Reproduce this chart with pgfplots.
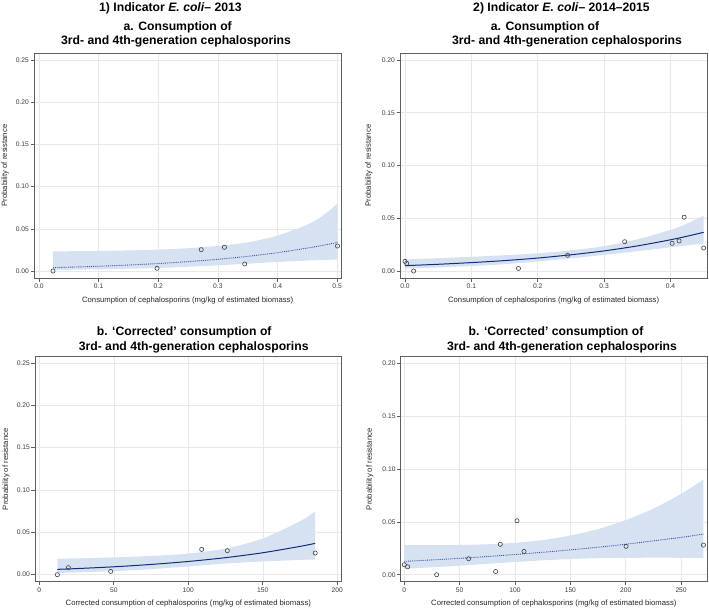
\documentclass[border=0pt]{standalone}
\usepackage{fontspec}
\setmainfont{Liberation Sans}
\usepackage{pgfplots}
\pgfplotsset{compat=1.18}
\usepackage{pgfplotstable}
\usepgfplotslibrary{fillbetween}

\definecolor{band}{RGB}{214,226,241}
\definecolor{navy}{RGB}{20,45,120}
\definecolor{dotblue}{RGB}{55,85,165}
\definecolor{framec}{RGB}{95,95,95}
\definecolor{ticklab}{RGB}{60,60,60}

% points
\pgfplotstableread{
x y
0.0235 0.000
0.198 0.0032
0.272 0.0253
0.311 0.0281
0.345 0.0083
0.5006 0.0296
}\ptsA
\pgfplotstableread{
x fit up lo
0.0235 0.00399 0.0232 0.0012
0.05 0.00450 0.0234 0.0015
0.10 0.00564 0.0238 0.0020
0.15 0.00708 0.0244 0.0027
0.20 0.00886 0.0254 0.0036
0.25 0.0111 0.0270 0.0050
0.30 0.0139 0.0298 0.0067
0.35 0.0174 0.0340 0.0087
0.40 0.0217 0.0420 0.0107
0.45 0.0272 0.0550 0.0124
0.475 0.0303 0.0650 0.0130
0.5006 0.0338 0.0800 0.0137
}\fitA

\pgfplotstableread{
x y
0.000 0.0092
0.0025 0.0073
0.013 0.000
0.171 0.0025
0.245 0.0149
0.331 0.0278
0.4025 0.0263
0.413 0.0285
0.4206 0.0510
0.450 0.0218
}\ptsB
\pgfplotstableread{
x fit up lo
0.00 0.0051 0.0110 0.0024
0.05 0.0064 0.0122 0.0034
0.10 0.0080 0.0135 0.0047
0.15 0.0099 0.0150 0.0065
0.20 0.0123 0.0168 0.0090
0.25 0.0154 0.0196 0.0120
0.30 0.0191 0.0236 0.0153
0.35 0.0238 0.0300 0.0188
0.40 0.0296 0.0390 0.0225
0.425 0.0330 0.0450 0.0243
0.45 0.0367 0.0525 0.0260
}\fitB

\pgfplotstableread{
x y
12.1 0.000
19.5 0.0083
47.9 0.0039
109.0 0.0299
126.2 0.0283
185.2 0.0256
}\ptsC
\pgfplotstableread{
x fit up lo
12.1 0.00630 0.0189 0.00209
25 0.00719 0.0193 0.00266
50 0.00931 0.0204 0.00422
75 0.0121 0.0221 0.00656
100 0.0156 0.0249 0.00971
125 0.0201 0.0309 0.0131
150 0.0259 0.0427 0.0156
175 0.0334 0.0632 0.0174
185.2 0.0370 0.0748 0.0180
}\fitC

\pgfplotstableread{
x y
0 0.0095
3.0 0.0075
29.2 0.000
58.1 0.0151
82.5 0.0030
86.7 0.0287
101.8 0.0510
108.1 0.0220
200.3 0.0268
270.2 0.0280
}\ptsD
\pgfplotstableread{
x fit up lo
0 0.0126 0.0280 0.0056
25 0.0140 0.0279 0.0070
50 0.0155 0.0281 0.0085
75 0.0172 0.0288 0.0103
100 0.0191 0.0302 0.0120
125 0.0212 0.0328 0.0136
150 0.0235 0.0370 0.0148
175 0.0260 0.0432 0.0156
200 0.0288 0.0516 0.0159
225 0.0320 0.0625 0.0161
250 0.0353 0.0764 0.0160
270.2 0.0384 0.0900 0.0159
}\fitD

\pgfplotsset{
 panel/.style={
   scale only axis, height=225pt, anchor=south west,
   /pgf/number format/assume math mode=true,
   axis line style={draw=framec, line width=0.7pt},
   tick pos=left, tick align=outside, major tick length=3.5pt,
   tick style={draw=framec, line width=0.6pt},
   grid=major, major grid style={draw=black!9, line width=0.5pt},
   tick label style={font=\fontsize{6.7}{8}\selectfont, text=ticklab},
   yticklabel style={/pgf/number format/fixed, /pgf/number format/fixed zerofill, /pgf/number format/precision=2, inner sep=1.5pt},
   xticklabel style={inner sep=2pt},
   scaled ticks=false,
   ylabel={Probability of resistance},
   every axis y label/.style={at={(axis description cs:-0.094,0.5)}, rotate=90, anchor=center, font=\fontsize{7.7}{9}\selectfont, text=black!85},
   every axis x label/.style={at={(axis description cs:0.5,-0.099)}, anchor=center, font=\fontsize{7.7}{9}\selectfont, text=black!85},
 },
 pts/.style={only marks, mark=o, mark size=2.1pt, draw=black!75, mark options={line width=0.6pt}},
}
\tikzset{titlefont/.style={font=\fontsize{12.2}{14}\selectfont\bfseries, anchor=base}}

\begin{document}
\begin{tikzpicture}

% ---------- 1a ----------
\begin{axis}[panel, at={(34pt,-278pt)}, width=307.3pt,
  xmin=-0.0084, xmax=0.507, ymin=-0.0083, ymax=0.2584,
  xtick={0,0.1,0.2,0.3,0.4,0.5}, ytick={0,0.05,0.1,0.15,0.2,0.25},
  xticklabel style={/pgf/number format/fixed, /pgf/number format/fixed zerofill, /pgf/number format/precision=1},
  xlabel={Consumption of cephalosporins (mg/kg of estimated biomass)}]
\addplot[name path=upA, draw=none, smooth] table[x=x, y=up]{\fitA};
\addplot[name path=loA, draw=none, smooth] table[x=x, y=lo]{\fitA};
\addplot[band, draw=none] fill between[of=upA and loA];
\addplot[dotblue, densely dotted, line width=0.9pt, smooth] table[x=x, y=fit]{\fitA};
\addplot[pts] table[x=x, y=y]{\ptsA};
\end{axis}

% ---------- 2a ----------
\begin{axis}[panel, at={(400pt,-278pt)}, width=307.3pt,
  every axis y label/.append style={at={(axis description cs:-0.101,0.5)}},
  xmin=-0.0075, xmax=0.4555, ymin=-0.0066, ymax=0.2066,
  xtick={0,0.1,0.2,0.3,0.4}, ytick={0,0.05,0.1,0.15,0.2},
  xticklabel style={/pgf/number format/fixed, /pgf/number format/fixed zerofill, /pgf/number format/precision=1},
  xlabel={Consumption of cephalosporins (mg/kg of estimated biomass)}]
\addplot[name path=upB, draw=none, smooth] table[x=x, y=up]{\fitB};
\addplot[name path=loB, draw=none, smooth] table[x=x, y=lo]{\fitB};
\addplot[band, draw=none] fill between[of=upB and loB];
\addplot[navy, line width=1pt, smooth] table[x=x, y=fit]{\fitB};
\addplot[pts] table[x=x, y=y]{\ptsB};
\end{axis}

% ---------- 1b ----------
\begin{axis}[panel, at={(35pt,-581.7pt)}, width=306.7pt,
  xmin=-2.9, xmax=203, ymin=-0.0083, ymax=0.2574,
  xtick={0,50,100,150,200}, ytick={0,0.05,0.1,0.15,0.2,0.25},
  xlabel={Corrected consumption of cephalosporins (mg/kg of estimated biomass)}]
\addplot[name path=upC, draw=none, smooth] table[x=x, y=up]{\fitC};
\addplot[name path=loC, draw=none, smooth] table[x=x, y=lo]{\fitC};
\addplot[band, draw=none] fill between[of=upC and loC];
\addplot[navy, line width=1pt, smooth] table[x=x, y=fit]{\fitC};
\addplot[pts] table[x=x, y=y]{\ptsC};
\end{axis}

% ---------- 2b ----------
\begin{axis}[panel, at={(400.7pt,-581.7pt)}, width=306.3pt,
  every axis y label/.append style={at={(axis description cs:-0.101,0.5)}},
  xmin=-3.25, xmax=273.4, ymin=-0.0066, ymax=0.206,
  xtick={0,50,100,150,200,250}, ytick={0,0.05,0.1,0.15,0.2},
  xlabel={Corrected consumption of cephalosporins (mg/kg of estimated biomass)}]
\addplot[name path=upD, draw=none, smooth] table[x=x, y=up]{\fitD};
\addplot[name path=loD, draw=none, smooth] table[x=x, y=lo]{\fitD};
\addplot[band, draw=none] fill between[of=upD and loD];
\addplot[dotblue, densely dotted, line width=0.9pt, smooth] table[x=x, y=fit]{\fitD};
\addplot[pts] table[x=x, y=y]{\ptsD};
\end{axis}

% ---------- titles ----------
\node[titlefont] at (170.5pt,-11.3pt) {1) Indicator \textit{E. coli}– 2013};
\node[titlefont] at (177.7pt,-30pt) {a. Consumption of};
\node[titlefont] at (176pt,-44.3pt) {3rd- and 4th-generation cephalosporins};

\node[titlefont] at (561.5pt,-11.3pt) {2) Indicator \textit{E. coli}– 2014–2015};
\node[titlefont] at (545pt,-30pt) {a. Consumption of};
\node[titlefont] at (567pt,-44.3pt) {3rd- and 4th-generation cephalosporins};

\node[titlefont] at (184.2pt,-335pt) {b. ‘Corrected’ consumption of};
\node[titlefont] at (193.7pt,-350pt) {3rd- and 4th-generation cephalosporins};

\node[titlefont] at (556pt,-335pt) {b. ‘Corrected’ consumption of};
\node[titlefont] at (562pt,-350pt) {3rd- and 4th-generation cephalosporins};

\pgfresetboundingbox
\path[use as bounding box] (0pt,0pt) rectangle (709pt,-608pt);
\end{tikzpicture}
\end{document}
